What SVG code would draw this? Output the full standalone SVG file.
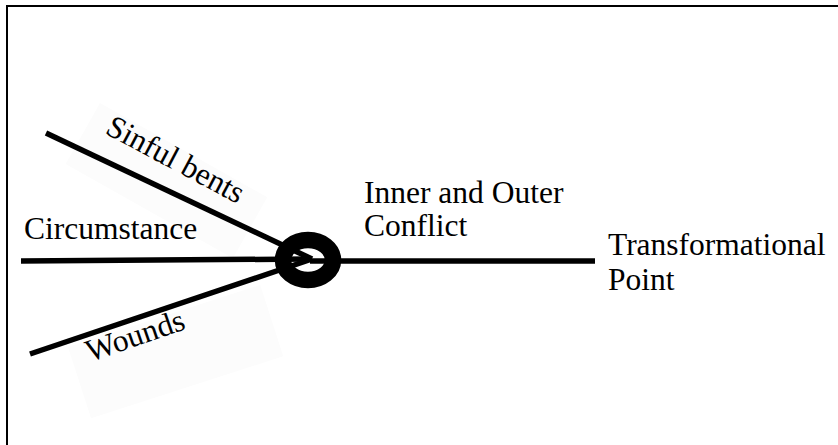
<svg xmlns="http://www.w3.org/2000/svg" width="838" height="445" viewBox="0 0 838 445">
<style>
.lbl{font-family:"Liberation Serif","Times New Roman",serif;font-size:31.5px;fill:#000}
.ln{stroke:#000;stroke-width:5.5;fill:none}
.bg{fill:#fcfcfc;stroke:none}
</style>
<rect x="0" y="0" width="838" height="445" fill="#fff"/>
<rect x="7" y="6" width="845" height="460" fill="none" stroke="#000" stroke-width="2"/>
<g id="label-backgrounds">
<rect class="bg" x="0" y="0" width="192" height="70" transform="translate(100,103) rotate(29.4)"/>
<rect class="bg" x="0" y="0" width="202" height="75" transform="translate(68,347) rotate(-17.9)"/>
</g>
<g id="connectors">
<line class="ln" x1="21" y1="261" x2="310" y2="259"/>
<line class="ln" x1="46" y1="133" x2="312" y2="259"/>
<line class="ln" x1="30" y1="354" x2="312" y2="259"/>
<line class="ln" x1="310" y1="261" x2="595" y2="261"/>
</g>
<g id="knot">
<ellipse cx="308" cy="260" rx="25" ry="20" fill="none" stroke="#000" stroke-width="16.5"/>
</g>
<g id="circumstance"><text class="lbl" x="24" y="239">Circumstance</text></g>
<g id="sinful-bents"><text class="lbl" transform="translate(104,133) rotate(28)">Sinful bents</text></g>
<g id="wounds"><text class="lbl" transform="translate(90,362) rotate(-19)">Wounds</text></g>
<g id="conflict"><text class="lbl" x="364" y="203">Inner and Outer</text><text class="lbl" x="364" y="236">Conflict</text></g>
<g id="transformational-point"><text class="lbl" x="608" y="255">Transformational</text><text class="lbl" x="608" y="290">Point</text></g>
</svg>
